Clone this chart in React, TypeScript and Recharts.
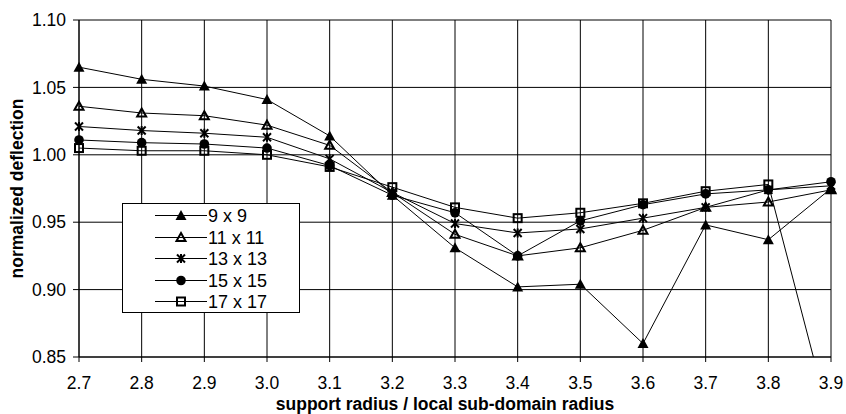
import React from 'react'
import { LineChart, Line, XAxis, YAxis, CartesianGrid, Legend } from 'recharts'

const radius = [2.7, 2.8, 2.9, 3.0, 3.1, 3.2, 3.3, 3.4, 3.5, 3.6, 3.7, 3.8, 3.9]
const grid9 = [1.065, 1.056, 1.051, 1.041, 1.014, 0.970, 0.931, 0.902, 0.904, 0.860, 0.948, 0.937, 0.975]
const grid11 = [1.036, 1.031, 1.029, 1.022, 1.007, 0.972, 0.941, 0.925, 0.931, 0.944, 0.961, 0.965, 0.974]
const grid13 = [1.021, 1.018, 1.016, 1.013, 0.997, 0.972, 0.949, 0.942, 0.945, 0.953, 0.961, 0.974, 0.977]
const grid15 = [1.011, 1.009, 1.008, 1.005, 0.992, 0.970, 0.957, 0.925, 0.951, 0.963, 0.971, 0.974, 0.980]
const grid17 = [1.005, 1.003, 1.003, 1.000, 0.991, 0.976, 0.961, 0.953, 0.957, 0.964, 0.973, 0.978, 0.800]

const xTicks = [2.7, 2.8, 2.9, 3.0, 3.1, 3.2, 3.3, 3.4, 3.5, 3.6, 3.7, 3.8, 3.9]
const yTicks = [0.85, 0.9, 0.95, 1.0, 1.05, 1.1]

type Shape = 'triFill' | 'triOpen' | 'star' | 'circle' | 'square'

const series: { key: string; name: string; shape: Shape }[] = [
  { key: 'g9', name: '9 x 9', shape: 'triFill' },
  { key: 'g11', name: '11 x 11', shape: 'triOpen' },
  { key: 'g13', name: '13 x 13', shape: 'star' },
  { key: 'g15', name: '15 x 15', shape: 'circle' },
  { key: 'g17', name: '17 x 17', shape: 'square' },
]

const rows = radius.map((x, i) => ({
  x,
  g9: grid9[i],
  g11: grid11[i],
  g13: grid13[i],
  g15: grid15[i],
  g17: grid17[i],
}))

const FONT = "Arial, 'Liberation Sans', sans-serif"

function Marker({ shape, cx, cy }: { shape: Shape; cx: number; cy: number }) {
  if (cx == null || cy == null || isNaN(cx) || isNaN(cy)) return null
  switch (shape) {
    case 'triFill':
      return <polygon points={`${cx},${cy - 5.5} ${cx + 5.5},${cy + 4.5} ${cx - 5.5},${cy + 4.5}`} fill="#000" />
    case 'triOpen':
      return (
        <polygon
          points={`${cx},${cy - 4.5} ${cx + 4.5},${cy + 3.5} ${cx - 4.5},${cy + 3.5}`}
          fill="none"
          stroke="#000"
          strokeWidth={2}
        />
      )
    case 'star':
      return (
        <g stroke="#000" strokeWidth={2}>
          <line x1={cx - 4} y1={cy - 4} x2={cx + 4} y2={cy + 4} />
          <line x1={cx - 4} y1={cy + 4} x2={cx + 4} y2={cy - 4} />
          <line x1={cx} y1={cy - 4.5} x2={cx} y2={cy + 4.5} />
        </g>
      )
    case 'circle':
      return <circle cx={cx} cy={cy} r={4.8} fill="#000" />
    case 'square':
      return <rect x={cx - 4} y={cy - 4} width={8} height={8} fill="none" stroke="#000" strokeWidth={2} />
  }
}

function LegendBox() {
  return (
    <svg width={178} height={110} style={{ display: 'block' }}>
      <rect x={0.5} y={0.5} width={177} height={109} fill="#fff" stroke="#000" />
      {series.map((s, i) => {
        const y = Math.round(12 + i * 21.5) + 0.5
        return (
          <g key={s.key}>
            <line x1={33} x2={85} y1={y} y2={y} stroke="#000" />
            <Marker shape={s.shape} cx={59} cy={y} />
            <text x={86} y={y + 6.5} fontSize={18} fontFamily={FONT} fill="#000">
              {s.name}
            </text>
          </g>
        )
      })}
    </svg>
  )
}

export default function App() {
  return (
    <div style={{ position: 'absolute', left: 0, top: 0, width: 846, height: 414, background: '#fff' }}>
      <LineChart width={846} height={414} data={rows} margin={{ top: 20, right: 15, bottom: 0, left: 0 }}>
        <CartesianGrid stroke="#000" />
        <XAxis
          type="number"
          dataKey="x"
          domain={[2.7, 3.9]}
          ticks={xTicks}
          tickFormatter={(v) => v.toFixed(1)}
          height={57}
          tickSize={5}
          tickMargin={15}
          stroke="#000"
          tick={{ fill: '#000', fontSize: 17.5, fontFamily: FONT }}
          label={{
            value: 'support radius / local sub-domain radius',
            position: 'insideBottom',
            offset: 4,
            dx: -10,
            fill: '#000',
            fontSize: 17.5,
            fontWeight: 'bold',
            fontFamily: FONT,
          }}
        />
        <YAxis
          domain={[0.85, 1.1]}
          ticks={yTicks}
          allowDataOverflow
          tickFormatter={(v) => v.toFixed(2)}
          width={79}
          tickSize={6}
          tickMargin={7}
          stroke="#000"
          tick={{ fill: '#000', fontSize: 17.5, fontFamily: FONT }}
          label={{
            value: 'normalized deflection',
            angle: -90,
            position: 'insideLeft',
            offset: 17,
            fill: '#000',
            fontSize: 17.5,
            fontWeight: 'bold',
            fontFamily: FONT,
            style: { textAnchor: 'middle' },
          }}
        />
        <Legend
          layout="vertical"
          align="center"
          verticalAlign="middle"
          content={() => <LegendBox />}
          wrapperStyle={{ left: 122, top: 203, width: 178, height: 110 }}
        />
        {series.map((s) => (
          <Line
            key={s.key}
            dataKey={s.key}
            name={s.name}
            stroke="#000"
            strokeWidth={1}
            isAnimationActive={false}
            dot={(p: any) => <Marker key={`${s.key}-${p.index}`} shape={s.shape} cx={p.cx} cy={p.cy} />}
          />
        ))}
      </LineChart>
    </div>
  )
}
